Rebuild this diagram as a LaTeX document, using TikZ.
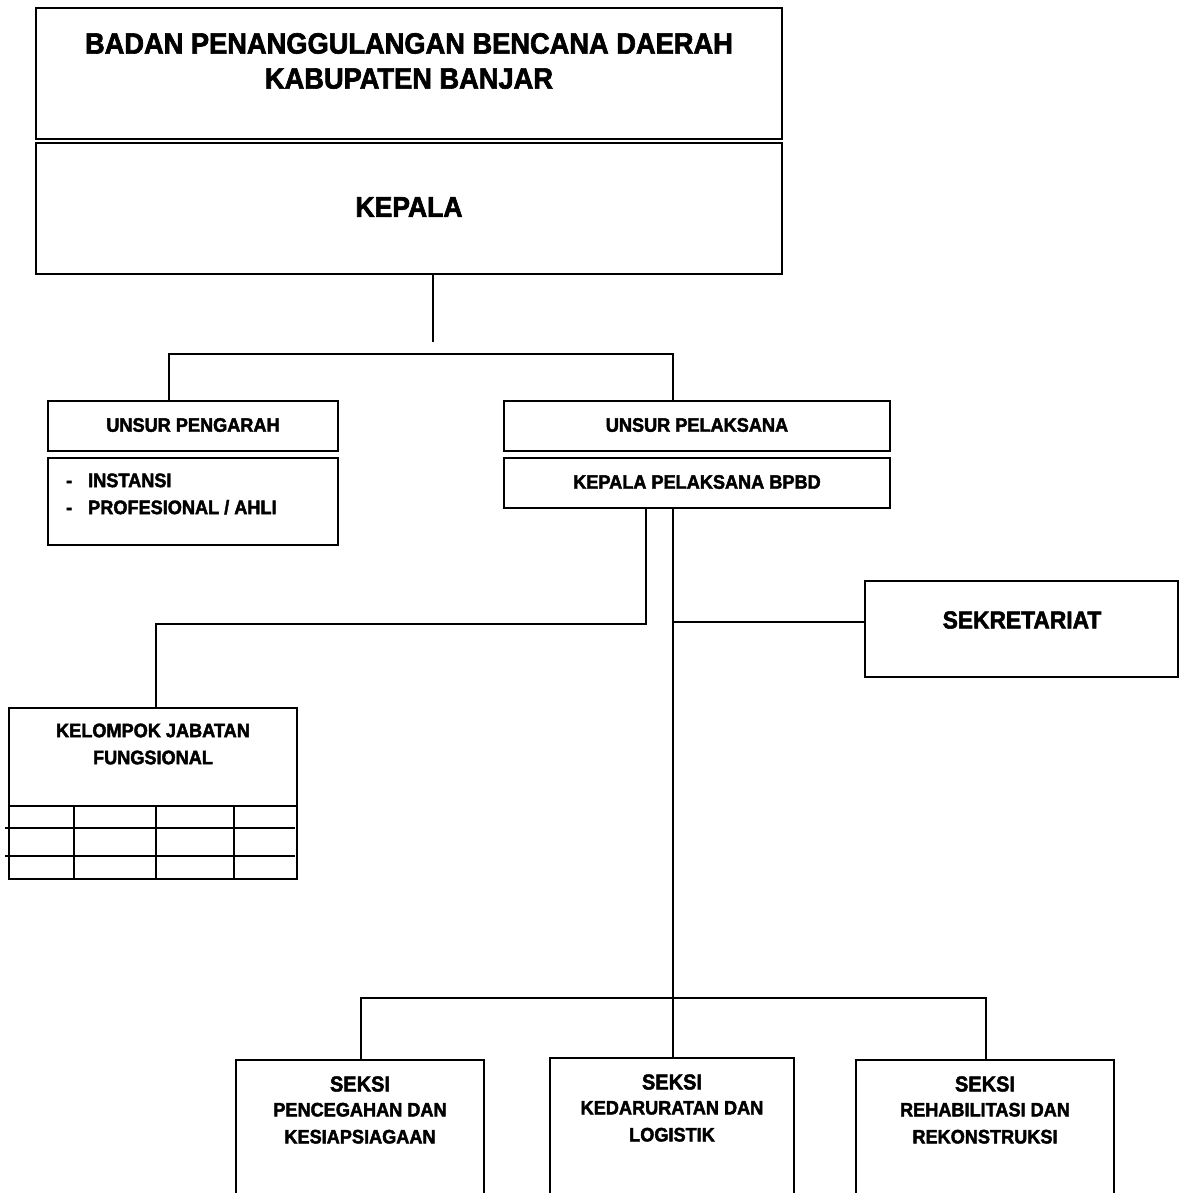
\documentclass[tikz,border=0pt]{standalone}
\usepackage{fontspec}
\setmainfont{Liberation Sans}[FakeStretch=0.93, BoldFeatures={FakeBold=2.2}]
\begin{document}
\begin{tikzpicture}[x=1pt,y=-1pt,
  box/.style={draw, line width=1.3pt, inner sep=0pt, outer sep=0pt, anchor=north west},
  conn/.style={line width=2pt},
  tbl/.style={line width=1.5pt},
  txt/.style={inner sep=0pt, align=center, font=\bfseries\fontsize{19.5}{27}\selectfont},
]
\useasboundingbox (0,0) rectangle (1180,1193);
% boxes
\node[box, minimum width=746pt, minimum height=131pt] (title) at (36,8) {};
\node[box, minimum width=746pt, minimum height=131pt] (kepala) at (36,143) {};
\node[box, minimum width=290pt, minimum height=50pt] (upeng) at (48,401) {};
\node[box, minimum width=290pt, minimum height=87pt] (inst) at (48,458) {};
\node[box, minimum width=386pt, minimum height=50pt] (upel) at (504,401) {};
\node[box, minimum width=386pt, minimum height=50pt] (kpel) at (504,458) {};
\node[box, minimum width=313pt, minimum height=96pt] (sek) at (865,581) {};
\node[box, minimum width=288pt, minimum height=98pt] (kjf) at (9,708) {};
\node[box, minimum width=248pt, minimum height=160pt] (s1) at (236,1060) {};
\node[box, minimum width=244pt, minimum height=160pt] (s2) at (550,1058) {};
\node[box, minimum width=258pt, minimum height=160pt] (s3) at (856,1060) {};
% texts
\node[txt, font=\bfseries\fontsize{29.3}{35}\selectfont] (titletxt) at (409,61) {BADAN PENANGGULANGAN BENCANA DAERAH\\KABUPATEN BANJAR};
\node[txt, font=\bfseries\fontsize{28.5}{32}\selectfont] (kepalatxt) at (409,207) {KEPALA};
\node[txt] (upengtxt) at (193,425) {UNSUR PENGARAH};
\node[txt, align=left, anchor=west] (insttxt) at (66,494) {\makebox[22pt][l]{-}INSTANSI\\\makebox[22pt][l]{-}PROFESIONAL / AHLI};
\node[txt] (upeltxt) at (697,425) {UNSUR PELAKSANA};
\node[txt] (kpeltxt) at (697,482) {KEPALA PELAKSANA BPBD};
\node[txt, font=\bfseries\fontsize{24.5}{28}\selectfont] (sektxt) at (1022,620) {SEKRETARIAT};
\node[txt] (kjftxt) at (153,744) {KELOMPOK JABATAN\\FUNGSIONAL};
\node[txt] (s1txt) at (360,1110) {{\fontsize{21.5}{24}\selectfont SEKSI}\\[-2pt]PENCEGAHAN DAN\\KESIAPSIAGAAN};
\node[txt] (s2txt) at (672,1108) {{\fontsize{21.5}{24}\selectfont SEKSI}\\[-2pt]KEDARURATAN DAN\\LOGISTIK};
\node[txt] (s3txt) at (985,1110) {{\fontsize{21.5}{24}\selectfont SEKSI}\\[-2pt]REHABILITASI DAN\\REKONSTRUKSI};
% table under kelompok jabatan fungsional
\draw[tbl] (kjf.south west) rectangle (297,879);
\draw[tbl] (5,828) -- (295,828);
\draw[tbl] (5,856) -- (295,856);
\foreach \cx in {74,156,234} \draw[tbl] (\cx,806) -- (\cx,879);
% connectors
\coordinate (kdrop) at (433,342);
\draw[conn] (kepala.south -| kdrop) -- (kdrop);
\coordinate (busL) at (169,354);
\coordinate (busR) at (673,354);
\draw[conn] (upeng.north -| busL) -- (busL) -- (busR) -- (upel.north -| busR);
\coordinate (fA) at (646,624);
\coordinate (fB) at (156,624);
\draw[conn] (kpel.south -| fA) -- (fA) -- (fB) -- (kjf.north -| fB);
\coordinate (m) at (673,622);
\draw[conn] (kpel.south -| m) -- (s2.north -| m);
\draw[conn] (m) -- (sek.west |- m);
\coordinate (sL) at (361,998);
\coordinate (sR) at (986,998);
\draw[conn] (s1.north -| sL) -- (sL) -- (sR) -- (s3.north -| sR);
\end{tikzpicture}
\end{document}
